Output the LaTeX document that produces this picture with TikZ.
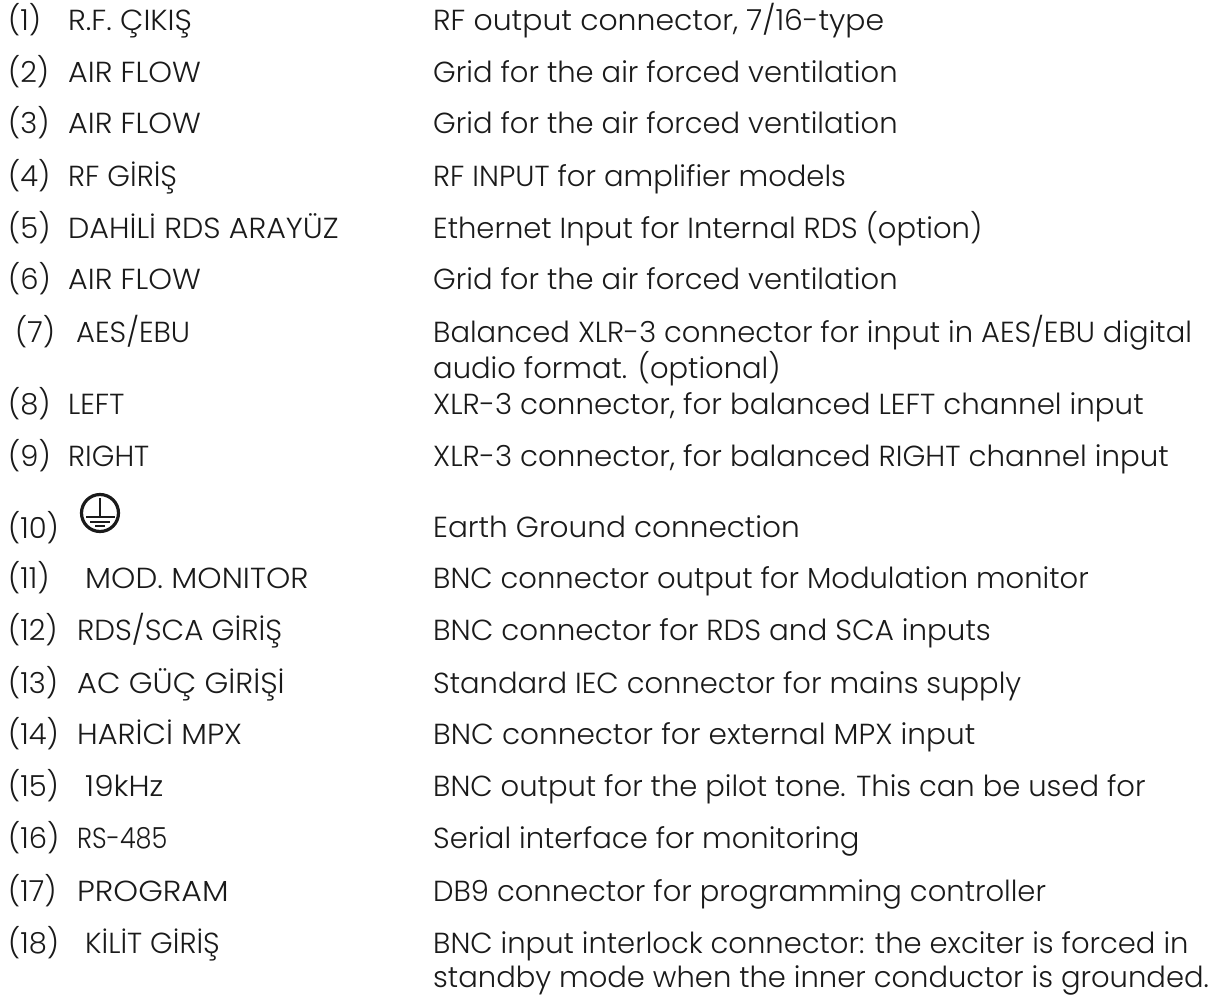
\documentclass[tikz,border=0pt]{standalone}
\usepackage{fontspec}
\setmainfont{Poppins Light}
\definecolor{ink}{HTML}{1A1A1A}
\tikzset{entry/.style={inner sep=0pt,anchor=base west,font=\fontsize{29}{31}\selectfont,text=ink}}
\newcommand{\sx}[2]{\scalebox{#1}[1]{#2}}
\newcommand{\rowitem}[6]{%
\node[entry] (n#1) at (#6,#2) {(#1)};
\node[entry] (l#1) at (#3,#2) {#4};
\node[entry] (d#1) at (433,#2) {#5};}
\begin{document}
\begin{tikzpicture}[x=1pt,y=-1pt]
\path[use as bounding box,fill=white] (0,0) rectangle (1214,995);
\rowitem{1}{31}{68}{\sx{1.044}{R.F. ÇIKIŞ}}{\sx{1.03}{RF output connector, 7/16-type}}{8}
\rowitem{2}{83}{68}{\sx{1.04}{AIR FLOW}}{Grid for the air forced ventilation}{8}
\rowitem{3}{134}{68}{\sx{1.04}{AIR FLOW}}{Grid for the air forced ventilation}{8}
\rowitem{4}{186}{68}{RF GİRİŞ}{RF INPUT for amplifier models}{8}
\rowitem{5}{238}{68}{\sx{1.04}{DAHİLİ RDS ARAYÜZ}}{Ethernet Input for Internal RDS (option)}{8}
\rowitem{6}{289}{68}{\sx{1.04}{AIR FLOW}}{Grid for the air forced ventilation}{8}
\rowitem{7}{342}{76}{AES/EBU}{Balanced XLR-3 connector for input in AES/EBU digital}{15}
\node[entry] (d7b) at (433,378) {audio format. (optional)};
\rowitem{8}{414}{68}{LEFT}{\sx{1.01}{XLR-3 connector, for balanced LEFT channel input}}{8}
\rowitem{9}{466}{68}{RIGHT}{\sx{1.01}{XLR-3 connector, for balanced RIGHT channel input}}{8}
\node[entry] (n10) at (8,538) {(10)};
\node[entry] (d10) at (433,537) {\sx{1.018}{Earth Ground connection}};
\draw[line width=3.2pt,ink] (100,513) circle (18.5);
\draw[line width=1.4pt,ink] (100,498) -- (100,517) (86,517) -- (115,517);
\draw[line width=1.4pt,ink] (90,522) -- (110,522) (95,526) -- (105,526);
\rowitem{11}{588}{85}{\sx{1.065}{MOD. MONITOR}}{BNC connector output for Modulation monitor}{8}
\rowitem{12}{640}{77}{\sx{1.013}{RDS/SCA GİRİŞ}}{\sx{1.011}{BNC connector for RDS and SCA inputs}}{8}
\rowitem{13}{693}{77}{\sx{1.05}{AC GÜÇ GİRİŞİ}}{Standard IEC connector for mains supply}{8}
\rowitem{14}{744}{77}{\sx{1.05}{HARİCİ MPX}}{\sx{1.019}{BNC connector for external MPX input}}{8}
\rowitem{15}{796}{85}{\sx{1.07}{19kHz}}{BNC output for the pilot tone. This can be used for}{8}
\rowitem{16}{848}{77}{\sx{0.88}{RS-485}}{Serial interface for monitoring}{8}
\rowitem{17}{901}{77}{\sx{1.087}{PROGRAM}}{DB9 connector for programming controller}{8}
\rowitem{18}{953}{85}{KİLİT GİRİŞ}{BNC input interlock connector: the exciter is forced in}{8}
\node[entry] (d18b) at (433,987) {standby mode when the inner conductor is grounded.};
\end{tikzpicture}
\end{document}
